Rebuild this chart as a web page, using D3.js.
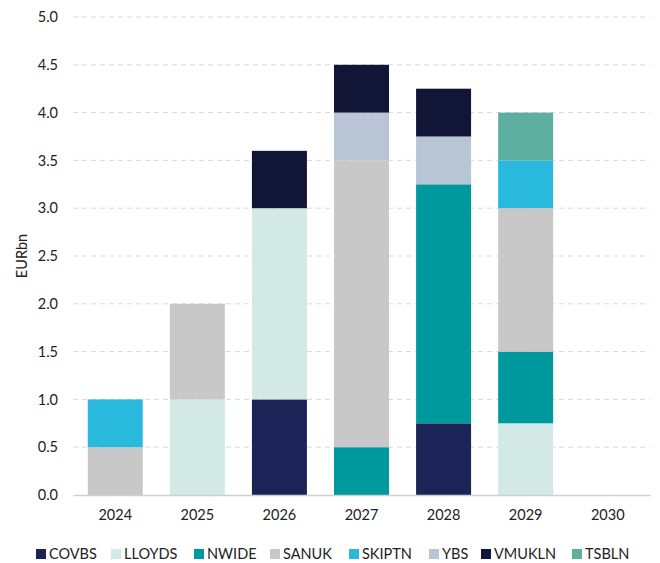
<!DOCTYPE html>
<html><head><meta charset="utf-8">
<script src="https://cdn.jsdelivr.net/npm/d3@7"></script>
<style>body{margin:0;background:#fff;} text{font-family:Lato,"Open Sans",sans-serif;}</style>
</head><body><svg id="c" width="660" height="563"></svg>
<script>
const years = ["2024","2025","2026","2027","2028","2029","2030"];
const issuers = ["COVBS","LLOYDS","NWIDE","SANUK","SKIPTN","YBS","VMUKLN","TSBLN"];
const colors = ["#1b2357","#d3e9e6","#00999e","#c8c8c8","#29b9dc","#b8c5d5","#111536","#5daf9f"];
const COVBS  = [0,   0,   1.0, 0,   0.75, 0,    0];
const LLOYDS = [0,   1.0, 2.0, 0,   0,    0.75, 0];
const NWIDE  = [0,   0,   0,   0.5, 2.5,  0.75, 0];
const SANUK  = [0.5, 1.0, 0,   3.0, 0,    1.5,  0];
const SKIPTN = [0.5, 0,   0,   0,   0,    0.5,  0];
const YBS    = [0,   0,   0,   0.5, 0.5,  0,    0];
const VMUKLN = [0,   0,   0.6, 0.5, 0.5,  0,    0];
const TSBLN  = [0,   0,   0,   0,   0,    0.5,  0];
const yTicks = [0,0.5,1,1.5,2,2.5,3,3.5,4,4.5,5];
const series = [COVBS,LLOYDS,NWIDE,SANUK,SKIPTN,YBS,VMUKLN,TSBLN];

const rows = years.map((yr,i)=>{const o={year:yr}; issuers.forEach((k,j)=>o[k]=series[j][i]); return o;});
const stack = d3.stack().keys(issuers)(rows);

const svg = d3.select("#c");
const pL=73, pR=650, pT=17, pB=495;
const FS = 14.5;
const x = d3.scaleBand().domain(years).range([pL,pR]).paddingInner(0.33).paddingOuter(0.18);
const y = d3.scaleLinear().domain([0,5]).range([pB,pT]);

// grid
svg.append("g").selectAll("line").data(yTicks.filter(t=>t>0)).join("line")
  .attr("x1",pL).attr("x2",pR).attr("y1",d=>y(d)).attr("y2",d=>y(d))
  .attr("stroke","#d9d9d9").attr("stroke-width",1).attr("stroke-dasharray","5,4");

// y axis labels
const ya = svg.append("g").attr("transform",`translate(${pL},0)`)
  .call(d3.axisLeft(y).tickValues(yTicks).tickFormat(d3.format(".1f")).tickSize(0).tickPadding(15));
ya.select(".domain").remove();
ya.selectAll("text").attr("font-size",FS).attr("fill","#222").style("font-family","Lato,sans-serif");

// bars
svg.append("g").selectAll("g").data(stack).join("g")
  .attr("fill",(d,i)=>colors[i])
  .selectAll("rect").data(d=>d.filter(p=>p[1]-p[0]>0)).join("rect")
  .attr("x",d=>x(d.data.year)).attr("width",x.bandwidth())
  .attr("y",d=>y(d[1])).attr("height",d=>y(d[0])-y(d[1]));

// x axis
const xa = svg.append("g").attr("transform",`translate(0,${pB})`)
  .call(d3.axisBottom(x).tickSize(0).tickPadding(15));
xa.select(".domain").attr("stroke","#d0d0d0").attr("stroke-width",1.5);
xa.selectAll("text").attr("font-size",FS).attr("fill","#222").style("font-family","Lato,sans-serif");

// y title
svg.append("text").attr("transform","translate(27,256) rotate(-90)").attr("text-anchor","middle")
  .attr("font-size",FS).attr("fill","#222").text("EURbn");

// legend
const legX = [36,111,194,270,349,429,481,572];
const lg = svg.append("g").selectAll("g").data(issuers).join("g")
  .attr("transform",(d,i)=>`translate(${legX[i]},549)`);
lg.append("rect").attr("width",10).attr("height",10).attr("fill",(d,i)=>colors[i]);
lg.append("text").attr("x",13).attr("y",10).attr("font-size",FS).attr("fill","#222").text(d=>d);
</script></body></html>
